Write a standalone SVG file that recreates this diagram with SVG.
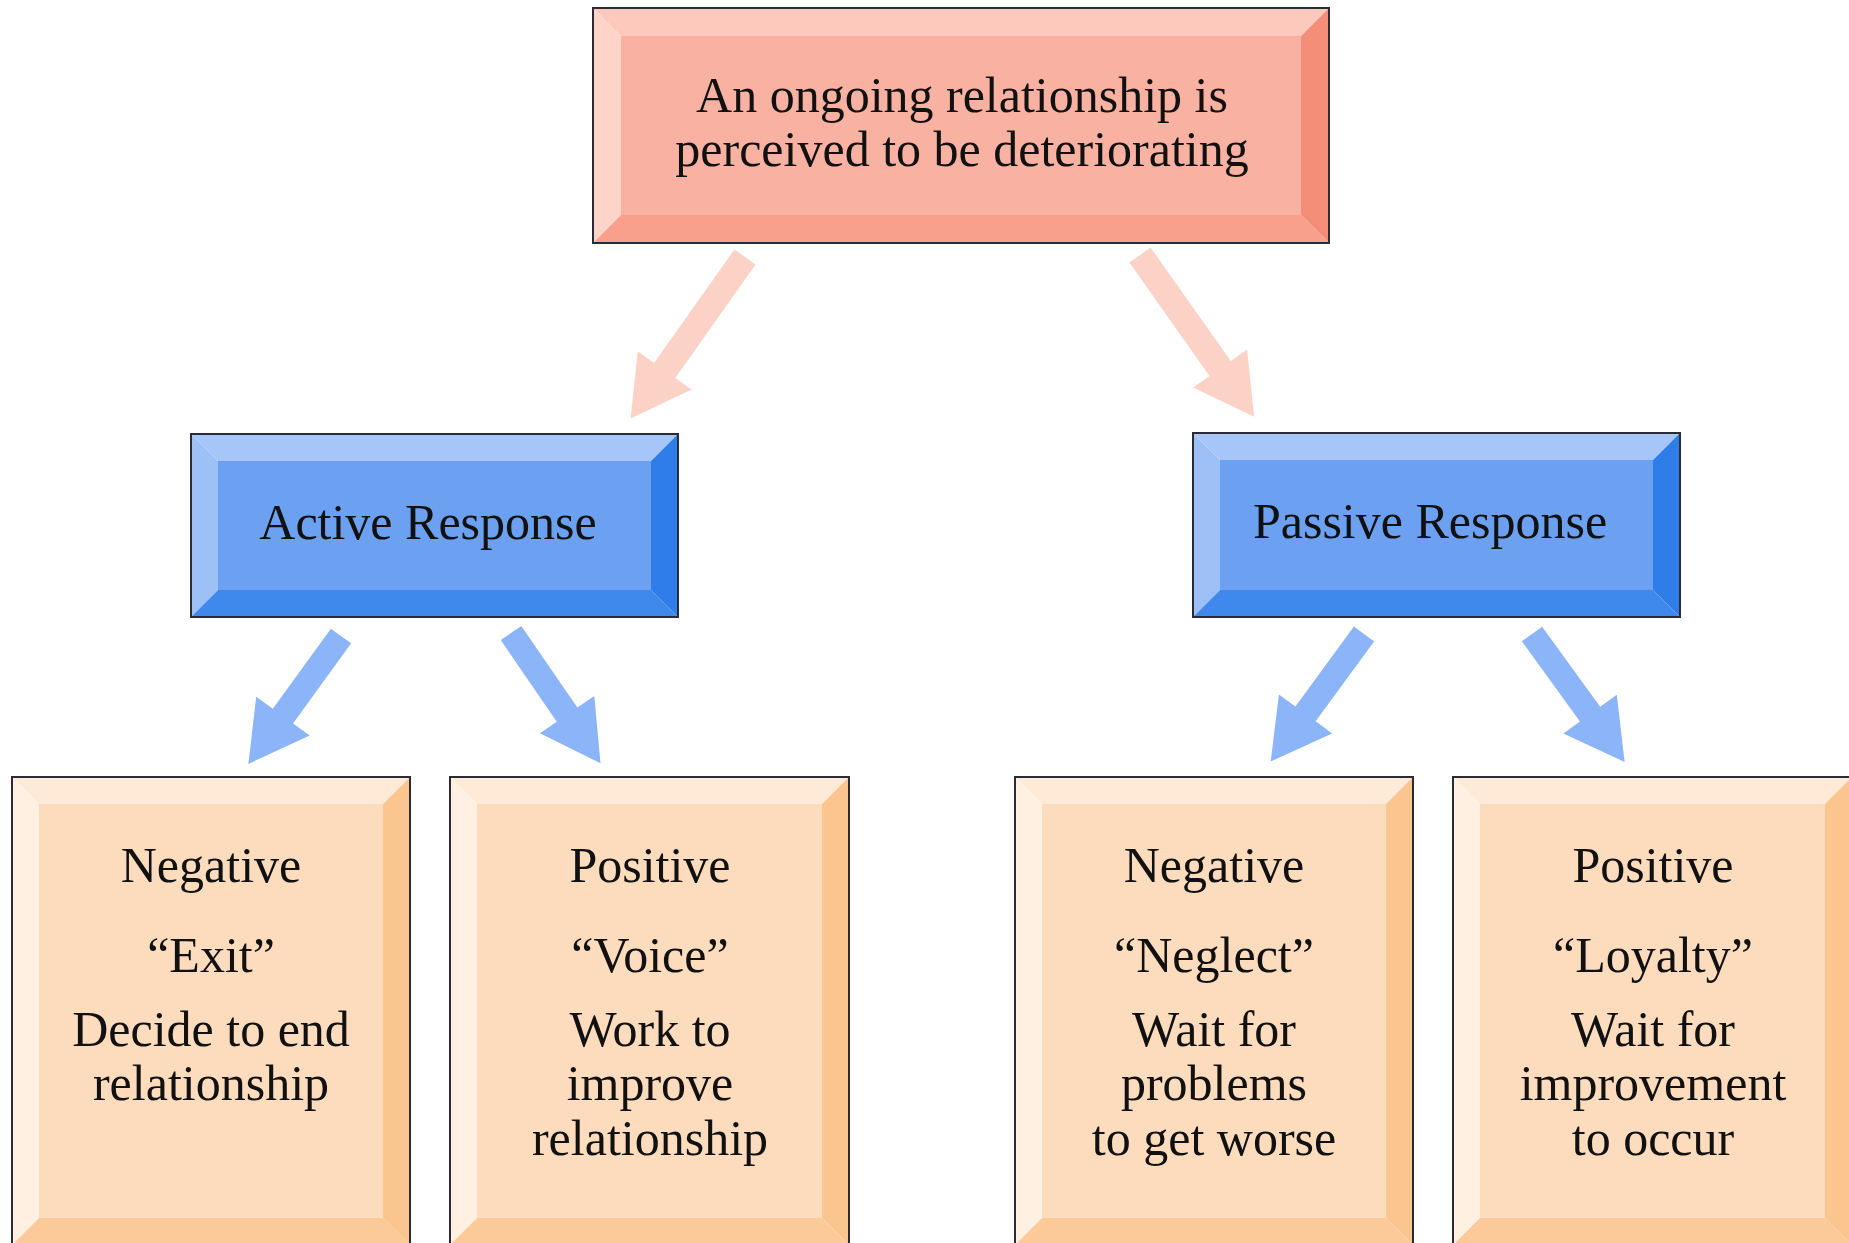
<svg xmlns="http://www.w3.org/2000/svg" width="1849" height="1243" viewBox="0 0 1849 1243">
<style>
  .txt { font-family: "Liberation Serif", "Times New Roman", serif; font-size: 50px; fill: #111; text-anchor: middle; }
  .border { fill: none; stroke: #2b2b38; stroke-width: 2; }
  .p-face { fill: #f9b1a2; } .p-top { fill: #fdc9bd; } .p-left { fill: #fed3c8; } .p-bot { fill: #f8a08c; } .p-right { fill: #f58e78; }
  .b-face { fill: #6ca0f0; } .b-top { fill: #a6c6f9; } .b-left { fill: #9dc0f7; } .b-bot { fill: #3f88ec; } .b-right { fill: #2f7de8; }
  .o-face { fill: #fddcbe; } .o-top { fill: #feead6; } .o-left { fill: #fff0e2; } .o-bot { fill: #fcc999; } .o-right { fill: #fbc590; }
  .arr-pink { fill: #fdd2c6; }
  .arr-blue { fill: #8bb5f8; }
</style>
<defs>
  <path id="arrowPink" d="M-13,0 L13,0 L13,139 L33,139 L0,198 L-33,139 L-13,139 Z"/>
  <path id="arrowBlue" d="M-12.5,0 L12.5,0 L12.5,99 L33,99 L0,158 L-33,99 L-12.5,99 Z"/>
</defs>
<rect x="0" y="0" width="1849" height="1243" fill="#ffffff"/>

<g id="connectors">
  <use href="#arrowPink" class="arr-pink" transform="translate(745,257) rotate(35.3)"/>
  <use href="#arrowPink" class="arr-pink" transform="translate(1140,255) rotate(-35.2)"/>
  <use href="#arrowBlue" class="arr-blue" transform="translate(341,636) rotate(35.9)"/>
  <use href="#arrowBlue" class="arr-blue" transform="translate(511,633) rotate(-34.5)"/>
  <use href="#arrowBlue" class="arr-blue" transform="translate(1364,634) rotate(36.2)"/>
  <use href="#arrowBlue" class="arr-blue" transform="translate(1532,634) rotate(-35.9)"/>
</g>

<g id="node-top">
  <rect class="p-face" x="621" y="36" width="680" height="179"/>
  <polygon class="p-top" points="593,8 1329,8 1301,36 621,36"/>
  <polygon class="p-left" points="593,8 621,36 621,215 593,243"/>
  <polygon class="p-bot" points="593,243 621,215 1301,215 1329,243"/>
  <polygon class="p-right" points="1329,8 1329,243 1301,215 1301,36"/>
  <rect class="border" x="593" y="8" width="736" height="235"/>
  <text class="txt" x="962" y="112">An ongoing relationship is</text>
  <text class="txt" x="962" y="166">perceived to be deteriorating</text>
</g>

<g id="node-active">
  <rect class="b-face" x="218" y="461" width="433" height="129"/>
  <polygon class="b-top" points="191,434 678,434 651,461 218,461"/>
  <polygon class="b-left" points="191,434 218,461 218,590 191,617"/>
  <polygon class="b-bot" points="191,617 218,590 651,590 678,617"/>
  <polygon class="b-right" points="678,434 678,617 651,590 651,461"/>
  <rect class="border" x="191" y="434" width="487" height="183"/>
  <text class="txt" x="428" y="539">Active Response</text>
</g>

<g id="node-passive">
  <rect class="b-face" x="1220" y="460" width="433" height="130"/>
  <polygon class="b-top" points="1193,433 1680,433 1653,460 1220,460"/>
  <polygon class="b-left" points="1193,433 1220,460 1220,590 1193,617"/>
  <polygon class="b-bot" points="1193,617 1220,590 1653,590 1680,617"/>
  <polygon class="b-right" points="1680,433 1680,617 1653,590 1653,460"/>
  <rect class="border" x="1193" y="433" width="487" height="184"/>
  <text class="txt" x="1430" y="538">Passive Response</text>
</g>

<g id="node-exit">
  <rect class="o-face" x="39" y="804" width="344" height="414"/>
  <polygon class="o-top" points="12,777 410,777 383,804 39,804"/>
  <polygon class="o-left" points="12,777 39,804 39,1218 12,1245"/>
  <polygon class="o-bot" points="12,1245 39,1218 383,1218 410,1245"/>
  <polygon class="o-right" points="410,777 410,1245 383,1218 383,804"/>
  <rect class="border" x="12" y="777" width="398" height="468"/>
  <text class="txt" x="211" y="882">Negative</text>
  <text class="txt" x="211" y="972">“Exit”</text>
  <text class="txt" x="211" y="1046">Decide to end</text>
  <text class="txt" x="211" y="1100">relationship</text>
</g>

<g id="node-voice">
  <rect class="o-face" x="477" y="804" width="345" height="414"/>
  <polygon class="o-top" points="450,777 849,777 822,804 477,804"/>
  <polygon class="o-left" points="450,777 477,804 477,1218 450,1245"/>
  <polygon class="o-bot" points="450,1245 477,1218 822,1218 849,1245"/>
  <polygon class="o-right" points="849,777 849,1245 822,1218 822,804"/>
  <rect class="border" x="450" y="777" width="399" height="468"/>
  <text class="txt" x="650" y="882">Positive</text>
  <text class="txt" x="650" y="972">“Voice”</text>
  <text class="txt" x="650" y="1046">Work to</text>
  <text class="txt" x="650" y="1100">improve</text>
  <text class="txt" x="650" y="1155">relationship</text>
</g>

<g id="node-neglect">
  <rect class="o-face" x="1042" y="804" width="344" height="414"/>
  <polygon class="o-top" points="1015,777 1413,777 1386,804 1042,804"/>
  <polygon class="o-left" points="1015,777 1042,804 1042,1218 1015,1245"/>
  <polygon class="o-bot" points="1015,1245 1042,1218 1386,1218 1413,1245"/>
  <polygon class="o-right" points="1413,777 1413,1245 1386,1218 1386,804"/>
  <rect class="border" x="1015" y="777" width="398" height="468"/>
  <text class="txt" x="1214" y="882">Negative</text>
  <text class="txt" x="1214" y="972">“Neglect”</text>
  <text class="txt" x="1214" y="1046">Wait for</text>
  <text class="txt" x="1214" y="1100">problems</text>
  <text class="txt" x="1214" y="1155">to get worse</text>
</g>

<g id="node-loyalty">
  <rect class="o-face" x="1480" y="804" width="345" height="414"/>
  <polygon class="o-top" points="1453,777 1852,777 1825,804 1480,804"/>
  <polygon class="o-left" points="1453,777 1480,804 1480,1218 1453,1245"/>
  <polygon class="o-bot" points="1453,1245 1480,1218 1825,1218 1852,1245"/>
  <polygon class="o-right" points="1852,777 1852,1245 1825,1218 1825,804"/>
  <rect class="border" x="1453" y="777" width="399" height="468"/>
  <text class="txt" x="1653" y="882">Positive</text>
  <text class="txt" x="1653" y="972">“Loyalty”</text>
  <text class="txt" x="1653" y="1046">Wait for</text>
  <text class="txt" x="1653" y="1100">improvement</text>
  <text class="txt" x="1653" y="1155">to occur</text>
</g>
</svg>
